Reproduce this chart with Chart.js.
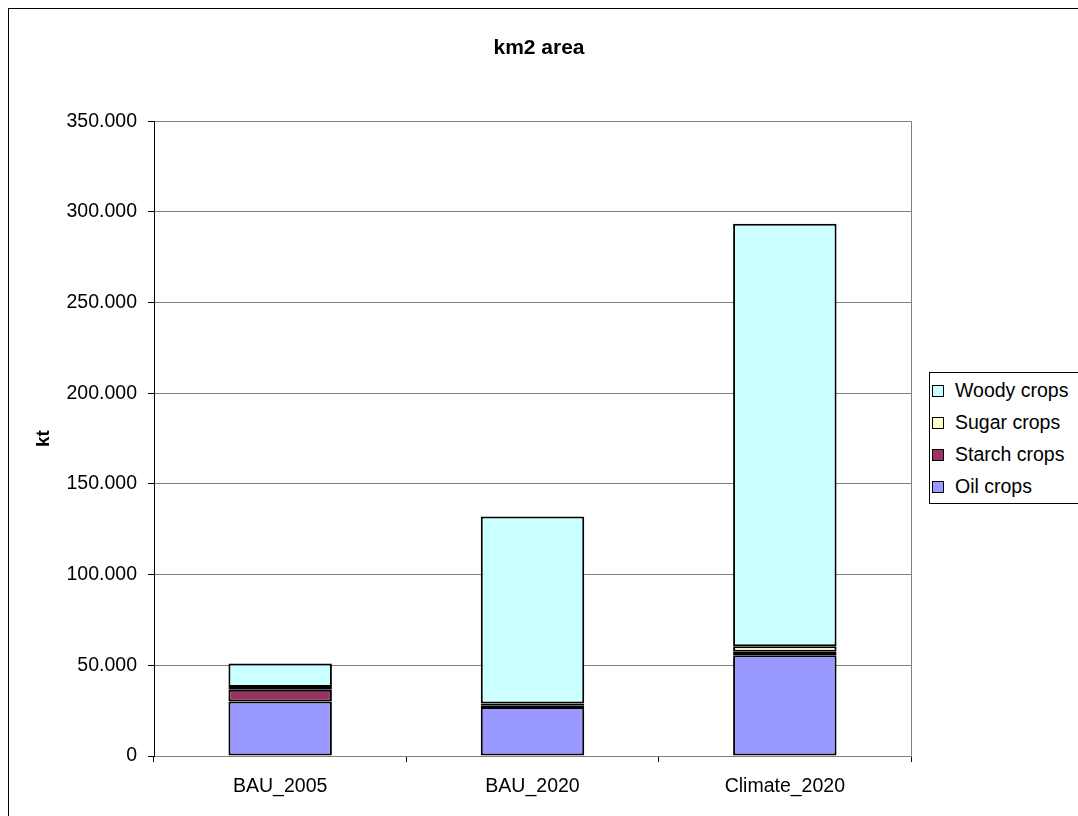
<!DOCTYPE html>
<html>
<head>
<meta charset="utf-8">
<script src="https://cdn.jsdelivr.net/npm/chart.js@4/dist/chart.umd.min.js"></script>
<style>
  html, body { margin: 0; padding: 0; background: #fff; overflow: hidden; }
  #wrap { position: relative; width: 1078px; height: 816px; }
  #frame { position: absolute; left: 8px; top: 8px; width: 1100px; height: 900px; border: 1px solid #000; box-sizing: border-box; }
  #chart { position: absolute; left: 0; top: 0; }
  #legend { position: absolute; left: 929px; top: 372px; width: 170px; height: 132px; border: 1px solid #000; box-sizing: border-box; background: #fff;
            font-family: "Liberation Sans", Arial, sans-serif; font-size: 19.5px; color: #000; }
  .row { position: absolute; left: 0; height: 22px; line-height: 22px; white-space: nowrap; }
  .sw { position: absolute; left: 2px; top: 6px; width: 10px; height: 10px; border: 1px solid #000; }
  .lbl { position: absolute; left: 25px; top: 0; }
</style>
</head>
<body>
<div id="wrap">
  <div id="frame"></div>
  <canvas id="chart" width="1078" height="816"></canvas>
  <div id="legend"></div>
</div>
<script>
'use strict';

const categories = ['BAU_2005', 'BAU_2020', 'Climate_2020'];
const oilCrops = [30000, 27000, 55500];
const starchCrops = [6500, 1000, 2000];
const sugarCrops = [1500, 1000, 3000];
const woodyCrops = [13000, 103000, 233000];
const yTicks = [0, 50000, 100000, 150000, 200000, 250000, 300000, 350000];

const seriesNames = ['Oil crops', 'Starch crops', 'Sugar crops', 'Woody crops'];
const seriesColors = ['#9999ff', '#993366', '#ffffcc', '#ccffff'];
const seriesData = [oilCrops, starchCrops, sugarCrops, woodyCrops];

function fmt(v) {
  return String(v).replace(/\B(?=(\d{3})+(?!\d))/g, '.');
}

let canvasElem = document.getElementById('chart');

let datasets = [];
for (let i = 0; i < seriesNames.length; i++) {
  datasets.push({
    label: seriesNames[i],
    data: seriesData[i],
    backgroundColor: seriesColors[i],
    borderColor: '#000',
    borderWidth: 2,
    borderSkipped: false,
    barPercentage: 0.82,
    categoryPercentage: 0.5
  });
}

const plotBorder = {
  id: 'plotBorder',
  afterDatasetsDraw(chart) {
    const a = chart.chartArea;
    const ctx = chart.ctx;
    ctx.save();
    ctx.strokeStyle = '#808080';
    ctx.lineWidth = 1;
    ctx.beginPath();
    ctx.moveTo(Math.round(a.right) + 0.5, a.top);
    ctx.lineTo(Math.round(a.right) + 0.5, a.bottom);
    ctx.stroke();
    ctx.restore();
  }
};

Chart.defaults.font.family = '"Liberation Sans", Arial, sans-serif';
Chart.defaults.color = '#000';

let chart = new Chart(canvasElem, {
  type: 'bar',
  data: { labels: categories, datasets: datasets },
  options: {
    responsive: false,
    animation: false,
    layout: { padding: { left: 0, right: 0, top: 0, bottom: 0 } },
    plugins: {
      legend: { display: false },
      tooltip: { enabled: false },
      title: {
        display: true,
        text: 'km2 area',
        font: { size: 21, weight: 'bold' },
        padding: { top: 36, bottom: 60 }
      }
    },
    scales: {
      x: {
        stacked: true,
        offset: true,
        afterFit(scale) { scale.height = 60; },
        grid: { display: true, offset: true, drawOnChartArea: false, drawTicks: true, tickLength: 6, color: '#000' },
        border: { color: '#808080' },
        ticks: { font: { size: 19.5 }, padding: 13, maxRotation: 0 }
      },
      y: {
        stacked: true,
        min: 0,
        max: 350000,
        afterFit(scale) { scale.width = 154; },
        afterBuildTicks(scale) { scale.ticks = yTicks.map(v => ({ value: v })); },
        grid: { color: '#808080', tickColor: '#000', tickLength: 6 },
        border: { color: '#000' },
        ticks: { font: { size: 19.5 }, padding: 11, callback: v => fmt(v) },
        title: { display: true, text: 'kt', font: { size: 19, weight: 'bold' }, padding: { top: 32, bottom: 0 } }
      },
      // empty right-hand space so that the title is centred on the whole chart
      yRight: {
        position: 'right',
        display: true,
        afterFit(scale) { scale.width = 167; },
        grid: { display: false },
        border: { display: false },
        ticks: { display: false }
      }
    }
  },
  plugins: [plotBorder]
});

// legend, top entry = last series
let legendElem = document.getElementById('legend');
const rowTops = [6, 38, 70, 102];
for (let i = 0; i < seriesNames.length; i++) {
  const idx = seriesNames.length - 1 - i;
  const row = document.createElement('div');
  row.className = 'row';
  row.style.top = rowTops[i] + 'px';
  row.innerHTML = '<span class="sw" style="background:' + seriesColors[idx] + '"></span><span class="lbl">' + seriesNames[idx] + '</span>';
  legendElem.appendChild(row);
}
</script>
</body>
</html>
